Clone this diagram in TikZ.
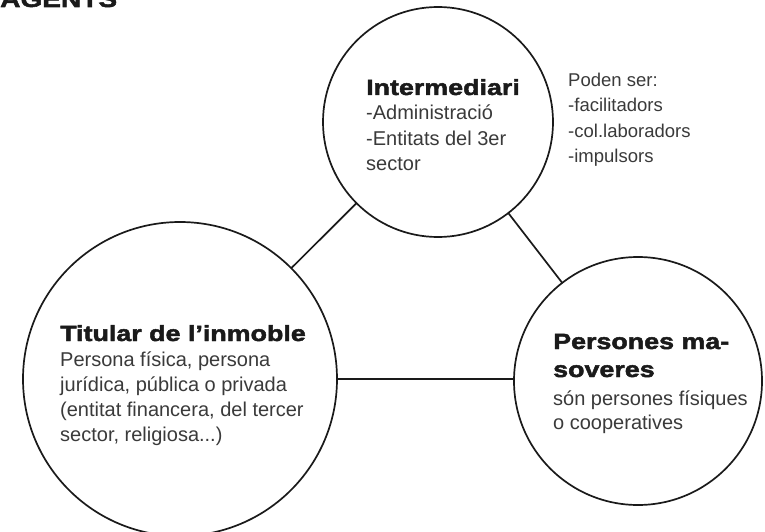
\documentclass[tikz,border=0pt]{standalone}
\usepackage{fontspec}
\setmainfont{Liberation Sans}
\newfontfamily\headfont[FakeStretch=1.22, FakeBold=2.2]{Liberation Sans Bold}
\definecolor{ink}{HTML}{1A1A1A}
\definecolor{txt}{HTML}{3A3A3A}
\begin{document}
\begin{tikzpicture}[x=1pt,y=-1pt,
  ring/.style={circle, draw=ink, line width=1.7pt, inner sep=0pt, outer sep=0pt},
  link/.style={draw=ink, line width=1.7pt},
  head/.style={anchor=base west, inner sep=0pt, text=ink, font=\headfont\fontsize{22}{26}\selectfont},
  body/.style={anchor=base west, inner sep=0pt, text=txt, font=\fontsize{20}{25}\selectfont},
  note/.style={anchor=base west, inner sep=0pt, text=txt, font=\fontsize{18.5}{24}\selectfont}]
\useasboundingbox (0,0) rectangle (765,532);
\clip (0,0) rectangle (765,532);
\fill[white] (0,0) rectangle (765,532);

% title (cut off at the top)
\node[head, font=\headfont\fontsize{23}{27}\selectfont] (title) at (0,7) {AGENTS};

% circles
\node[ring, minimum size=230pt] (inter) at (438,122) {};
\node[ring, minimum size=314pt] (titular) at (180,379) {};
\node[ring, minimum size=248pt] (masov) at (638,381) {};

% connectors
\draw[link] (inter) -- (titular);
\draw[link] (inter) -- (masov);
\draw[link] (titular.east) -- (titular.east -| masov.west);

% Intermediari
\node[head] (h1) at (366,95) {Intermediari};
\node[body] (b11) at (366,120) {-Administració};
\node[body] (b12) at (366,145) {-Entitats del 3er};
\node[body] (b13) at (366,170) {sector};

% note
\node[note] (n1) at (568,87) {Poden ser:};
\node[note] (n2) at (568,112) {-facilitadors};
\node[note] (n3) at (568,137) {-col.laboradors};
\node[note] (n4) at (568,162) {-impulsors};

% Titular
\node[head] (h2) at (60,341) {Titular de l’inmoble};
\node[body] (b21) at (60,366) {Persona física, persona};
\node[body] (b22) at (60,391) {jurídica, pública o privada};
\node[body] (b23) at (60,416) {(entitat financera, del tercer};
\node[body] (b24) at (60,441) {sector, religiosa...)};

% Persones masoveres
\node[head] (h3) at (553,349) {Persones ma-};
\node[head] (h4) at (553,377) {soveres};
\node[body] (b31) at (553,405) {són persones físiques};
\node[body] (b32) at (553,429) {o cooperatives};
\end{tikzpicture}
\end{document}
